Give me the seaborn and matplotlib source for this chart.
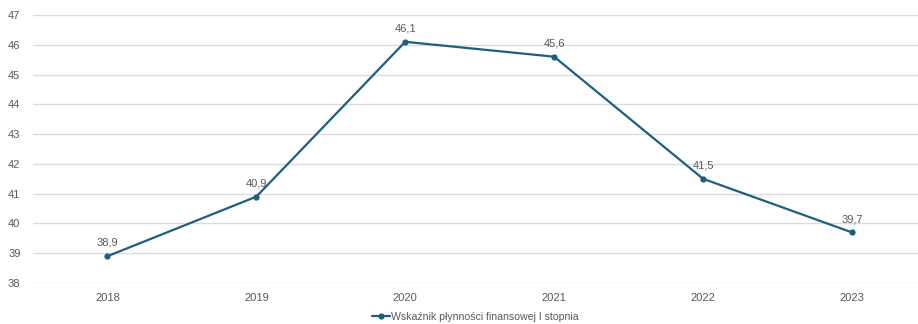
import matplotlib
matplotlib.use("Agg")
import matplotlib.pyplot as plt
import seaborn as sns
import pandas as pd

years = ["2018", "2019", "2020", "2021", "2022", "2023"]
values = [38.9, 40.9, 46.1, 45.6, 41.5, 39.7]
series_name = "Wskaźnik płynności finansowej I stopnia"

sns.set_style("white")
plt.rcParams['font.family'] = ['Liberation Sans', 'DejaVu Sans']

df = pd.DataFrame({"x": range(len(years)), "y": values, "s": series_name})

fig = plt.figure(figsize=(9.18, 3.24), dpi=100)
ax = fig.add_axes([33/918, 1 - 283/324, 885/918, 268/324])

color = "#1d5f7f"
sns.lineplot(data=df, x="x", y="y", hue="s", palette=[color], marker="o",
             markersize=4.5, markeredgewidth=0, linewidth=1.6, ax=ax, legend=True)

ax.set_xlim(-0.5, 5.444)
ax.set_ylim(38, 47)
ax.set_yticks(range(38, 48))
ax.set_xticks(range(len(years)))
ax.set_xticklabels(years)
ax.grid(axis="y", color="#dcdcdc", linewidth=1)
ax.set_axisbelow(True)
for s in ax.spines.values():
    s.set_visible(False)
ax.tick_params(axis="y", length=0, pad=9, labelsize=8, labelcolor="#595959")
ax.tick_params(axis="x", length=0, pad=7, labelsize=8, labelcolor="#595959")
ax.set_xlabel("")
ax.set_ylabel("")

for i, v in enumerate(values):
    ax.annotate(f"{v:.1f}".replace(".", ","), (i, v), xytext=(0, 6),
                textcoords="offset points", ha="center", va="bottom",
                fontsize=8, color="#595959")

leg = ax.legend(loc="center", bbox_to_anchor=(0.5, -0.127), frameon=False,
                fontsize=7.6, handlelength=1.7, handletextpad=0.05, labelcolor="#595959")
for h in leg.legend_handles:
    h.set_linewidth(1.6)

fig.savefig("out.png", dpi=100)
